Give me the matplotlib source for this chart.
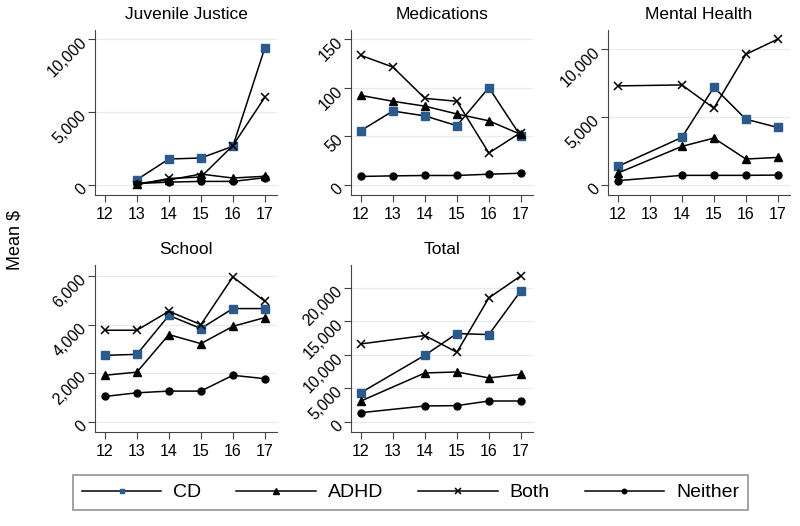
import numpy as np
import matplotlib
matplotlib.use("Agg")
import matplotlib.pyplot as plt

plt.rcParams.update({
    "font.family": "sans-serif",
    "font.sans-serif": ["Liberation Sans", "DejaVu Sans"],
    "font.size": 11,
})

BLUE = "#2b5b8c"

ages = [12, 13, 14, 15, 16, 17]
groups = ["CD", "ADHD", "Both", "Neither"]

# juvenile justice (no data at 12)
jj_ages = [13, 14, 15, 16, 17]
jj_cd = [370, 1780, 1850, 2650, 9380]
jj_adhd = [100, 350, 750, 480, 600]
jj_both = [30, 450, 550, 2700, 6000]
jj_neither = [100, 200, 250, 250, 500]

# medications
med_ages = [12, 13, 14, 15, 16, 17]
med_cd = [56, 76, 71, 61, 100, 50]
med_adhd = [92, 86, 81, 73, 66, 52]
med_both = [133, 121, 89, 86, 33, 54]
med_neither = [9, 9.6, 10, 10, 11.3, 12.3]

# mental health (no data at 13)
mh_ages = [12, 14, 15, 16, 17]
mh_cd = [1370, 3500, 7190, 4840, 4230]
mh_adhd = [880, 2840, 3450, 1910, 2030]
mh_both = [7290, 7360, 5650, 9610, 10730]
mh_neither = [320, 710, 710, 710, 730]

# school
sch_ages = [12, 13, 14, 15, 16, 17]
sch_cd = [2740, 2780, 4380, 3840, 4660, 4660]
sch_adhd = [1920, 2050, 3590, 3220, 3930, 4290]
sch_both = [3770, 3770, 4550, 4000, 5960, 4960]
sch_neither = [1050, 1200, 1270, 1270, 1920, 1780]

# total (no data at 13)
tot_ages = [12, 14, 15, 16, 17]
tot_cd = [4380, 9950, 13180, 13030, 19550]
tot_adhd = [3130, 7310, 7460, 6570, 7110]
tot_both = [11640, 12890, 10400, 18500, 21790]
tot_neither = [1390, 2390, 2440, 3130, 3130]

panels = [
    ("Juvenile Justice", jj_ages, [jj_cd, jj_adhd, jj_both, jj_neither],
     [0, 5000, 10000], (-680, 10600), (95, 30, 277, 195)),
    ("Medications", med_ages, [med_cd, med_adhd, med_both, med_neither],
     [0, 50, 100, 150], (-10, 159), (351, 30, 533, 195)),
    ("Mental Health", mh_ages, [mh_cd, mh_adhd, mh_both, mh_neither],
     [0, 5000, 10000], (-735, 11400), (608, 30, 790, 195)),
    ("School", sch_ages, [sch_cd, sch_adhd, sch_both, sch_neither],
     [0, 2000, 4000, 6000], (-410, 6450), (95, 265, 277, 432)),
    ("Total", tot_ages, [tot_cd, tot_adhd, tot_both, tot_neither],
     [0, 5000, 10000, 15000, 20000], (-1490, 23400), (351, 265, 533, 432)),
]

styles = {
    "CD": dict(marker="s", ms=5.5, mfc=BLUE, mec=BLUE),
    "ADHD": dict(marker="^", ms=6, mfc="black", mec="black"),
    "Both": dict(marker="x", ms=6, mew=1.1, mec="black"),
    "Neither": dict(marker="o", ms=5, mfc="black", mec="black"),
}

W, H = 800, 526
fig = plt.figure(figsize=(8, 5.26), dpi=100)

for title, xs, series, yt, ylim, (x0, y0, x1, y1) in panels:
    ax = fig.add_axes([x0 / W, 1 - y1 / H, (x1 - x0) / W, (y1 - y0) / H])
    for g, ys in zip(groups, series):
        ax.plot(xs, ys, color="black", lw=1.1, label=g, **styles[g])
    ax.set_xlim(11.69, 17.38)
    ax.set_ylim(*ylim)
    ax.set_xticks(ages)
    ax.set_yticks(yt)
    ax.set_yticklabels([f"{v:,}" for v in yt], rotation=45, ha="right",
                       rotation_mode="anchor")
    ax.grid(axis="y", color="#e6ebee", lw=0.9)
    ax.set_axisbelow(True)
    for s in ("top", "right"):
        ax.spines[s].set_visible(False)
    for s in ("left", "bottom"):
        ax.spines[s].set_color("#444444")
    ax.tick_params(colors="#444444", labelcolor="black", labelsize=11.5, length=5)
    ax.set_title(title, fontsize=12.5, pad=8)

handles, labels = ax.get_legend_handles_labels()
leg = fig.legend(handles, labels, loc="upper left", ncol=4,
                 bbox_to_anchor=(73 / W, 1 - 475 / H), borderaxespad=0,
                 fontsize=14, frameon=True, fancybox=False,
                 edgecolor="#777777", handlelength=4.1, handletextpad=0.6,
                 borderpad=0.45, columnspacing=1.8, markerscale=0.65)
leg.get_frame().set_linewidth(1.2)

fig.text(15 / W, 1 - 240 / H, "Mean $", rotation=90, va="center", ha="center",
         fontsize=13)

fig.savefig("out.png", dpi=100)
